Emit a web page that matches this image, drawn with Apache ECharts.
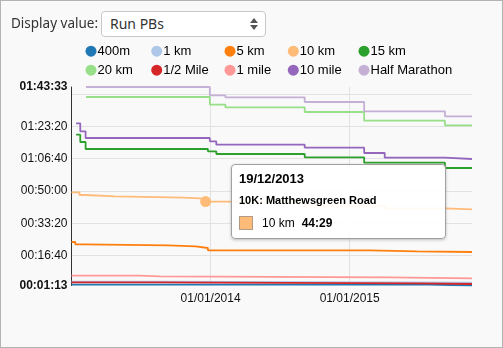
<!DOCTYPE html>
<html><head><meta charset="utf-8">
<script src="https://cdn.jsdelivr.net/npm/echarts@6/dist/echarts.min.js"></script>
<style>
html,body{margin:0;padding:0;background:#f9f9f9;overflow:hidden;}
#chart{position:absolute;left:0;top:0;width:503px;height:348px;}
#frame{position:absolute;left:0;top:0;width:503px;height:348px;box-sizing:border-box;border:1px solid #b3b3b3;pointer-events:none;}
#lbl{position:absolute;left:11px;top:13px;font-family:'Noto Sans',sans-serif;font-size:13.5px;color:#333;line-height:20px;}
#sel{position:absolute;left:101px;top:11px;width:165px;height:26px;box-sizing:border-box;border:1px solid #c8c8c8;border-radius:4px;background:#fff;font-family:'Noto Sans',sans-serif;font-size:14px;color:#333;line-height:24px;padding-left:8px;}
#arr{position:absolute;right:7px;top:6px;width:8px;height:12px;}
#arr i{position:absolute;left:0;width:0;height:0;border-left:4px solid transparent;border-right:4px solid transparent;}
#arr .u{top:0;border-bottom:5px solid #555;}
#arr .d{top:7px;border-top:5px solid #555;}
</style></head>
<body>
<div id="chart"></div>
<div id="lbl">Display value:</div>
<div id="sel">Run PBs<span id="arr"><i class="u"></i><i class="d"></i></span></div>
<div id="frame"></div>
<script>
// ---- data ----
const seriesNames = ['400m','1 km','5 km','10 km','15 km','20 km','1/2 Mile','1 mile','10 mile','Half Marathon'];
const seriesColors = ['#1f77b4','#aec7e8','#ff7f0e','#ffbb78','#2ca02c','#98df8a','#d62728','#ff9896','#9467bd','#c5b0d5'];

const dates400m = ['2013-01-01','2015-07-31'];
const times400m = [100, 73];
const dates1km = ['2013-01-01','2013-08-21'];
const times1km = [190, 165];
const dates5km = ['2013-01-01','2013-01-11','2013-02-02','2013-09-11','2013-11-23','2013-12-25','2015-02-23','2015-06-26'];
const times5km = [1418, 1347, 1316, 1285, 1233, 1162, 1131, 1109];
const dates10km = ['2013-01-01','2013-01-22','2013-02-07','2013-04-25','2013-10-23','2013-12-19','2014-09-05','2015-04-03','2015-09-08'];
const times10km = [2956, 2872, 2832, 2789, 2758, 2669, 2541, 2461, 2430];
const dates15km = ['2013-01-13','2013-01-24','2013-02-07','2013-12-25','2014-01-16','2014-09-05','2015-02-08','2015-09-08'];
const times15km = [4737, 4511, 4295, 4224, 4140, 4038, 3871, 3707];
const dates20km = ['2013-02-08','2013-12-30','2014-02-09','2014-09-05','2015-02-08','2015-09-08'];
const times20km = [5903, 5665, 5585, 5439, 5170, 5028];
const datesHalfMile = ['2013-01-01','2013-08-21','2015-06-26'];
const timesHalfMile = [172, 141, 119];
const dates1mile = ['2013-01-01','2013-06-29','2013-08-21','2015-04-16'];
const times1mile = [376, 358, 327, 296];
const dates10mile = ['2013-01-13','2013-01-24','2013-02-07','2013-12-30','2014-01-16','2014-09-05','2015-02-08','2015-04-03','2015-09-08'];
const times10mile = [5090, 4842, 4635, 4533, 4428, 4335, 4171, 4026, 3986];
const datesHM = ['2013-02-08','2013-12-30','2014-02-09','2014-09-05','2015-02-08','2015-09-08'];
const timesHM = [6213, 5956, 5894, 5749, 5461, 5306];

const xStart = '2013-01-01';
const xEnd = '2015-11-18';
const xTickDates = ['2014-01-01','2015-01-01'];
const yMin = 73, yMax = 6213;
const yGridValues = [1000, 2000, 3000, 4000, 5000, 6000];
const yLabelValues = [73, 1000, 2000, 3000, 4000, 5000, 6213];

const tipSeriesName = '10 km';
const tipDate = '2013-12-19';
const tipRace = '10K: Matthewsgreen Road';

const seriesDates = [dates400m, dates1km, dates5km, dates10km, dates15km, dates20km, datesHalfMile, dates1mile, dates10mile, datesHM];
const seriesTimes = [times400m, times1km, times5km, times10km, times15km, times20km, timesHalfMile, times1mile, times10mile, timesHM];

// ---- helpers ----
function pad(n){return (n<10?'0':'')+n;}
function hms(s){return pad(Math.floor(s/3600))+':'+pad(Math.floor(s%3600/60))+':'+pad(s%60);}
function ms(s){return pad(Math.floor(s/60))+':'+pad(s%60);}
const ts = s => +echarts.time.parse(s);
const fmtDate = v => echarts.time.format(v, '{dd}/{MM}/{yyyy}', false);
const FONT = "'Liberation Sans', Arial, sans-serif";

const tipSeriesIndex = seriesNames.indexOf(tipSeriesName);
const tipDataIndex = seriesDates[tipSeriesIndex].indexOf(tipDate);

const series = seriesNames.map((name, i) => {
  const d = seriesDates[i], t = seriesTimes[i];
  const data = d.map((x, k) => [ts(x), t[k]]);
  data.push([ts(xEnd), t[t.length - 1]]);
  const isTip = i === tipSeriesIndex;
  return {
    name, type: 'line', step: 'end', data,
    color: seriesColors[i],
    showSymbol: isTip,
    showAllSymbol: true,
    symbol: 'circle',
    symbolSize: isTip ? ((v, p) => p.dataIndex === tipDataIndex ? 11 : 0) : 0,
    itemStyle: {color: seriesColors[i], borderWidth: 0},
    lineStyle: {width: 1.8, color: seriesColors[i]},
    emphasis: {disabled: true},
    animation: false,
    z: 2
  };
});

// legend: 5 columns of 2
const rich = {t: {fontSize: 13, fontFamily: FONT, color: '#000', padding: [0,0,0,1]}};
seriesColors.forEach((c, i) => { rich['c' + i] = {width: 11, height: 11, borderRadius: 5.5, backgroundColor: c}; });
const legendCols = [85.5, 151.2, 224.5, 287.8, 358.5];
const legends = legendCols.map((lx, col) => ({
  orient: 'vertical', left: lx - 5, top: 44.7, itemGap: 6, padding: 0,
  itemWidth: 0, itemHeight: 11, icon: 'none',
  data: [seriesNames[col], seriesNames[col + 5]],
  formatter: n => '{c' + seriesNames.indexOf(n) + '|}{t|' + n + '}',
  textStyle: {rich, fontFamily: FONT, fontSize: 13, color: '#000'},
  selectedMode: false
}));

const chart = echarts.init(document.getElementById('chart'), null, {renderer: 'canvas'});
chart.setOption({
  backgroundColor: 'transparent',
  animation: false,
  legend: legends,
  grid: {left: 71.5, right: 31, top: 87, bottom: 62.5, containLabel: false, outerBoundsMode: 'none'},
  xAxis: {
    type: 'value', min: ts(xStart), max: ts(xEnd),
    axisLine: {show: false}, axisTick: {show: false, customValues: xTickDates.map(ts)},
    axisLabel: {customValues: xTickDates.map(ts), margin: 7, color: '#111', fontSize: 12, fontFamily: FONT,
      formatter: v => fmtDate(v), hideOverlap: false},
    splitLine: {show: true, lineStyle: {color: '#e2e2e2', width: 1}}
  },
  yAxis: {
    type: 'value', min: yMin, max: yMax,
    axisLine: {show: true, lineStyle: {color: '#333', width: 1}},
    axisTick: {show: false, customValues: yGridValues},
    axisLabel: {customValues: yLabelValues, margin: 4, color: '#111', fontSize: 12, fontFamily: FONT,
      formatter: v => (v === yMin || v === yMax) ? '{b|' + hms(v) + '}' : hms(v),
      rich: {b: {fontWeight: 'bold', fontSize: 12, fontFamily: FONT, color: '#111'}}, hideOverlap: false},
    splitLine: {show: true, lineStyle: {color: '#e2e2e2', width: 1}}
  },
  tooltip: {
    trigger: 'item', triggerOn: 'none', alwaysShowContent: true, confine: false,
    position: [230.5, 163.5], transitionDuration: 0,
    backgroundColor: 'rgba(255,255,255,0.92)', borderColor: '#a0a0a0', borderWidth: 1.5, borderRadius: 4,
    padding: [6, 10, 8, 7],
    extraCssText: 'box-shadow:0 1px 3px rgba(0,0,0,0.25);width:196px;box-sizing:content-box;',
    formatter: p => {
      const dt = fmtDate(p.value[0]);
      return '<div style="font:bold 13px ' + FONT + ';color:#000;line-height:16px;">' + dt + '</div>' +
        '<div style="font:bold 11px ' + FONT + ';color:#000;line-height:14px;margin-top:6px;">' + tipRace + '</div>' +
        '<div style="margin-top:9px;height:14px;display:flex;align-items:center;font:12px ' + FONT + ';color:#000;">' +
        '<span style="display:inline-block;width:12px;height:12px;background:' + p.color + ';border:1px solid #b39a82;"></span>' +
        '<span style="margin-left:9px;">' + p.seriesName + '</span>' +
        '<span style="margin-left:7px;font-weight:bold;">' + ms(p.value[1]) + '</span></div>';
    }
  },
  series
});
chart.dispatchAction({type: 'showTip', seriesIndex: tipSeriesIndex, dataIndex: tipDataIndex});
</script>
</body></html>
